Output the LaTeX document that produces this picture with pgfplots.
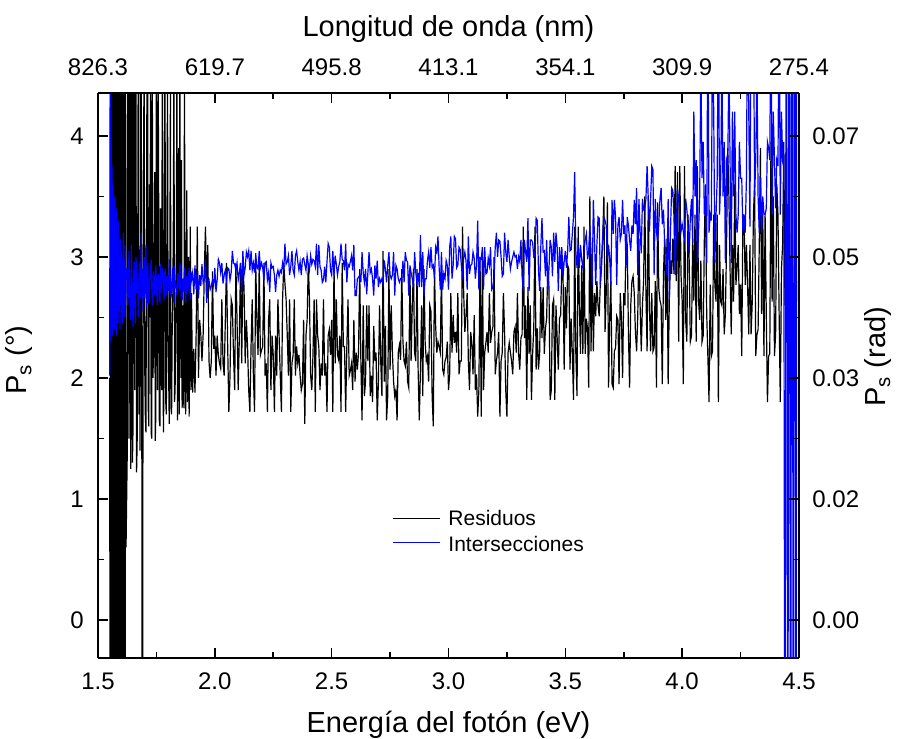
\documentclass[border=0pt]{standalone}
\usepackage{pgfplots}
\usepackage{pgfplotstable}
\pgfplotsset{compat=1.18}
\usepackage{fontspec}
\setmainfont{Liberation Sans}

\pgfplotstableread{
x r i
1.550 2.0 2.02
1.552 -2 4.5
1.554 6 2.3
1.556 -1.5 4.2
1.558 5.5 2.5
1.560 -2 3.75
1.562 6 2.35
1.564 -1 3.6
1.566 5 2.6
1.568 -2 3.3
1.570 6 2.4
1.572 -1.5 3.5
1.574 5.5 2.5
1.576 0.5 3.2
1.578 6 2.35
1.580 -2 3.4
1.582 4.8 2.6
1.584 -1 3.1
1.586 6 2.45
1.588 -2 3.3
1.590 5 2.55
1.592 -1.5 3.0
1.594 6 2.4
1.596 -0.5 3.15
1.598 5.5 2.6
1.600 -2 3.05
1.602 4.6 2.5
1.604 -1 2.95
1.606 6 2.45
1.608 -1.5 3.2
1.610 5 2.55
1.612 -0.8 2.9
1.614 5.5 2.5
1.616 -1.2 3.1
1.618 4.9 2.6
1.620 0.6 2.9
1.625 1.35 2.9
1.6275 4.9 2.6
1.630 5.2 2.72
1.6325 1.5 3.05
1.635 2.4 2.66
1.6375 5.3 2.75
1.640 1.25 2.48
1.6425 2.0 3.1
1.645 4.8 2.8
1.6475 1.3 2.55
1.650 1.6 2.42
1.6525 4.6 2.85
1.655 3.4 2.96
1.6575 1.9 2.6
1.660 5.5 2.45
1.6625 4.4 3.0
1.665 1.22 2.9
1.6675 1.45 2.7
1.670 2.9 2.8
1.6725 5.0 2.5
1.675 1.7 2.84
1.6775 2.3 2.92
1.680 1.4 2.96
1.6825 4.8 2.66
1.685 4.6 3.2
1.6875 1.6 2.8
1.690 -2.5 2.9
1.6925 1.9 2.55
1.695 3.8 2.86
1.6975 4.7 3.0
1.700 2.1 2.66
1.7025 1.7 2.78
1.705 1.55 3.1
1.7075 2.8 2.58
1.710 5.0 2.72
1.7125 4.6 2.95
1.715 1.75 2.8
1.7175 1.6 2.62
1.720 3.6 2.66
1.7225 2.5 2.84
1.725 4.7 2.9
1.7275 1.55 2.98
1.730 1.5 2.76
1.7325 4.5 2.6
1.735 2.0 2.74
1.7375 2.2 2.88
1.740 2.9 2.84
1.7425 3.7 2.68
1.745 1.48 2.72
1.7475 1.7 2.93
1.750 5.1 2.76
1.7525 2.4 2.65
1.755 1.9 2.6
1.7575 4.6 2.86
1.760 3.3 2.8
1.7625 1.65 2.74
1.765 1.6 2.62
1.7675 3.4 2.94
1.770 2.2 2.81
1.7725 1.9 2.7
1.775 4.5 2.91
1.7775 2.6 2.78
1.780 1.55 2.87
1.7825 2.0 2.64
1.785 4.9 2.73
1.7875 3.9 2.9
1.790 1.8 2.76
1.7925 1.7 2.68
1.795 3.1 2.84
1.7975 4.5 2.8
1.800 2.3 2.85
1.8025 2.0 2.72
1.805 1.62 2.98
1.8075 2.9 2.9
1.810 4.4 2.79
1.8125 1.75 2.66
1.815 1.7 2.73
1.8175 2.4 2.84
1.820 2.6 2.91
1.8225 3.3 2.7
1.825 4.6 2.62
1.8275 1.8 2.93
1.830 1.9 2.81
1.8325 2.5 2.75
1.835 2.8 2.73
1.8375 4.6 2.68
1.840 1.65 2.81
1.8425 2.1 2.87
1.845 3.9 2.76
1.8475 1.7 2.74
1.850 4.8 2.91
1.8525 2.9 2.95
1.855 2.0 2.69
1.8575 3.8 2.7
1.860 1.75 2.64
1.8625 2.0 2.82
1.865 2.6 2.76
1.8675 1.75 2.71
1.870 4.5 2.91
1.8725 2.8 2.88
1.875 1.7 2.62
1.8775 2.3 2.77
1.880 3.55 2.84
1.8825 1.8 2.69
1.885 2.1 2.73
1.8875 3.0 2.85
1.890 1.68 2.91
1.8925 2.4 2.72
1.895 3.25 2.65
1.8975 1.9 2.88
1.900 2.7 2.81
1.905 1.88 2.87
1.910 2.24 2.69
1.915 1.88 2.93
1.920 2.36 2.73
1.925 3.25 2.88
1.930 2.0 2.66
1.935 2.48 2.85
1.940 2.36 2.76
1.945 2.14 2.94
1.950 2.36 2.79
1.955 2.88 2.81
1.960 3.25 2.98
1.965 2.66 2.62
1.970 3.1 2.79
1.975 2.14 2.81
1.980 2.0 2.73
1.985 2.14 2.76
1.990 2.88 2.81
1.995 2.24 2.76
2.000 2.35 2.91
2.005 2.02 2.71
2.010 2.35 2.81
2.015 2.19 2.98
2.020 2.12 2.95
2.025 2.08 2.87
2.030 2.65 2.95
2.035 2.12 2.78
2.040 2.02 2.85
2.045 2.48 2.89
2.050 2.95 2.81
2.055 2.26 2.91
2.060 1.72 2.9
2.065 2.02 2.81
2.070 2.65 2.87
2.075 2.6 3.05
2.080 2.19 2.95
2.085 1.9 2.94
2.090 2.95 2.89
2.095 2.48 2.95
2.100 1.9 2.81
2.105 2.35 2.87
2.110 2.95 2.95
2.115 2.12 2.71
2.120 2.9 3.05
2.125 2.75 2.85
2.130 2.12 2.91
2.135 2.48 3.04
2.140 2.26 3.0
2.145 1.9 3.05
2.150 1.72 2.89
2.155 2.26 3.05
2.160 2.65 2.89
2.165 2.02 2.95
2.170 1.72 2.87
2.175 2.95 3.03
2.180 2.48 2.91
2.185 2.19 2.9
2.190 2.95 3.05
2.195 2.19 2.91
2.200 2.23 2.95
2.205 2.26 2.91
2.210 2.95 2.81
2.215 2.02 2.95
2.220 2.12 2.96
2.225 1.72 2.81
2.230 2.48 2.87
2.235 2.65 2.71
2.240 1.9 2.95
2.245 2.35 2.91
2.250 2.19 2.92
2.255 1.72 2.85
2.260 2.35 2.71
2.265 2.02 2.85
2.270 2.65 2.89
2.275 2.35 2.84
2.280 2.02 2.89
2.285 1.72 2.87
2.290 2.65 2.95
2.295 2.95 2.89
2.300 2.78 3.11
2.305 2.65 2.94
2.310 2.35 2.96
2.315 2.02 3.01
2.320 2.65 2.85
2.325 1.72 2.92
2.330 2.12 3.05
2.335 2.19 2.89
2.340 2.65 2.85
2.345 2.02 3.01
2.350 2.26 3.05
2.355 2.12 2.96
2.360 2.19 2.89
2.365 2.02 2.96
2.370 1.9 2.85
2.375 1.95 2.98
2.380 2.48 2.99
2.385 1.62 2.94
2.390 2.35 2.89
2.395 2.48 3.01
2.400 2.95 2.94
2.405 2.65 2.89
2.410 2.02 3.01
2.415 1.9 2.94
2.420 2.19 2.98
2.425 2.65 2.97
2.430 1.72 2.92
2.435 2.65 3.11
2.440 2.35 2.85
2.445 2.26 3.1
2.450 1.9 2.92
2.455 2.12 2.89
2.460 2.02 2.79
2.465 2.65 2.81
2.470 2.02 2.92
2.475 2.12 2.79
2.480 1.72 2.96
2.485 2.35 3.11
2.490 2.4 3.08
2.495 2.19 2.89
2.500 2.48 2.85
2.505 1.72 3.05
2.510 2.95 2.85
2.515 2.12 3.01
2.520 2.65 2.94
2.525 2.19 2.85
2.530 2.15 2.92
2.535 2.35 2.96
2.540 1.72 3.11
2.545 2.95 2.98
2.550 2.26 2.97
2.555 2.26 2.89
2.560 1.72 3.11
2.565 2.26 2.79
2.570 2.65 2.94
2.575 2.02 2.92
2.580 2.06 2.96
2.585 2.12 3.01
2.590 1.9 2.89
2.595 2.48 3.1
2.600 1.97 2.68
2.605 2.21 2.68
2.610 2.07 2.82
2.615 2.21 2.83
2.620 2.9 2.85
2.625 2.14 2.79
2.630 1.65 3.04
2.635 2.6 2.87
2.640 1.85 2.79
2.645 1.97 2.9
2.650 2.6 2.69
2.655 2.14 2.87
2.660 2.6 3.04
2.665 1.85 2.87
2.670 2.02 2.9
2.675 1.8 2.82
2.680 2.43 2.68
2.685 2.14 2.93
2.690 2.21 2.82
2.695 1.65 2.97
2.700 1.97 2.75
2.705 2.6 2.82
2.710 2.14 2.79
2.715 1.85 2.82
2.720 3.05 2.78
2.725 1.97 2.97
2.730 2.43 2.9
2.735 1.65 2.79
2.740 1.85 2.93
2.745 2.9 3.04
2.750 2.07 2.85
2.755 2.6 2.82
2.760 2.21 2.85
2.765 1.97 3.04
2.770 1.85 2.68
2.775 1.9 2.93
2.780 1.65 2.9
2.785 2.21 2.82
2.790 2.27 2.79
2.795 2.15 2.82
2.800 2.9 2.81
2.805 2.3 2.97
2.810 2.14 2.79
2.815 2.1 3.04
2.820 2.3 2.97
2.825 1.97 2.96
2.830 1.92 2.68
2.835 2.9 2.93
2.840 2.14 2.87
2.845 2.6 2.82
2.850 2.9 2.75
2.855 2.21 3.04
2.860 2.14 2.87
2.865 2.9 2.79
2.870 2.07 2.87
2.875 1.65 2.75
2.880 2.07 3.18
2.885 2.6 2.75
2.890 1.85 3.04
2.895 2.9 2.68
2.900 2.3 2.82
2.905 2.14 2.82
2.910 2.18 2.97
2.915 1.97 3.04
2.920 2.6 2.91
2.925 2.55 3.08
2.930 1.85 2.91
2.935 1.6 2.93
2.940 2.9 2.82
2.945 2.43 3.08
2.950 2.21 3.04
2.955 2.3 3.17
2.960 2.26 2.91
2.965 2.21 2.73
2.970 2.9 3.04
2.975 2.07 2.73
2.980 2.03 2.86
2.985 2.14 2.82
2.990 2.17 2.97
2.995 2.3 2.93
3.000 1.9 2.73
3.005 2.03 3.08
3.010 2.7 3.17
3.015 2.21 2.82
3.020 2.52 2.93
3.025 2.29 3.17
3.030 2.38 3.15
3.035 2.21 2.91
3.040 2.7 2.93
3.045 2.03 3.08
3.050 2.14 3.06
3.055 2.14 2.93
3.060 3.25 2.82
3.065 2.7 2.99
3.070 2.38 3.04
3.075 2.52 2.97
3.080 2.7 2.73
3.085 2.14 3.17
3.090 1.9 2.86
3.095 2.38 2.93
3.100 2.29 2.94
3.105 2.03 3.04
3.110 2.52 2.99
3.115 1.9 2.82
3.120 2.03 2.93
3.125 1.68 3.3
3.130 1.9 2.73
3.135 3.0 2.99
3.140 1.68 2.98
3.145 3.0 3.08
3.150 1.9 2.73
3.155 2.21 3.08
3.160 2.29 2.86
3.165 2.38 2.87
3.170 2.21 2.99
3.175 2.7 2.93
3.180 2.29 3.08
3.185 2.38 2.73
3.190 2.42 2.75
3.195 3.0 2.82
3.200 2.03 3.08
3.205 2.14 3.2
3.210 2.21 3.0
3.215 2.38 3.14
3.220 1.68 3.13
3.225 2.14 3.0
3.230 2.21 2.84
3.235 2.7 2.86
3.240 2.38 3.2
3.245 1.9 3.04
3.250 1.68 2.96
3.255 2.21 3.14
3.260 2.29 3.0
3.265 2.21 2.9
3.270 2.14 2.96
3.275 2.03 3.0
3.280 2.38 3.04
3.285 2.42 3.0
3.290 2.21 3.01
3.295 2.7 2.9
3.300 2.2 3.0
3.305 2.07 2.96
3.310 2.33 3.14
3.315 2.36 2.84
3.320 3.25 2.72
3.325 2.33 3.14
3.330 2.6 3.04
3.335 1.82 2.96
3.340 2.75 3.32
3.345 2.2 2.72
3.350 2.6 3.14
3.355 1.82 3.14
3.360 2.2 3.12
3.365 2.41 3.0
3.370 3.25 3.01
3.375 2.07 3.32
3.380 2.41 3.3
3.385 2.07 2.9
3.390 2.2 2.72
3.395 2.75 3.08
3.400 2.33 3.32
3.405 2.75 3.04
3.410 2.2 3.05
3.415 2.41 2.84
3.420 2.49 3.14
3.425 2.93 2.72
3.430 2.75 2.9
3.435 1.82 3.14
3.440 1.9 3.08
3.445 2.6 2.84
3.450 2.65 3.2
3.455 1.82 2.96
3.460 2.6 3.2
3.465 2.33 3.08
3.470 2.07 2.72
3.475 2.49 3.08
3.480 2.52 2.9
3.485 2.93 3.08
3.490 2.88 2.84
3.495 2.07 2.96
3.500 2.75 3.05
3.505 2.41 2.91
3.510 2.93 3.05
3.515 2.9 3.33
3.520 2.07 3.05
3.525 2.49 3.06
3.530 2.2 3.19
3.535 1.82 3.33
3.540 3.25 3.7
3.545 2.2 3.05
3.550 1.85 2.91
3.555 3.25 3.1
3.560 2.6 2.91
3.565 2.2 3.1
3.570 2.93 2.98
3.575 2.2 2.91
3.580 3.25 3.05
3.585 2.2 3.14
3.590 2.49 3.19
3.595 2.41 2.98
3.600 1.92 3.05
3.605 3.5 3.26
3.610 2.22 3.05
3.615 2.97 2.77
3.620 2.22 3.47
3.625 2.7 3.14
3.630 2.51 2.77
3.635 2.8 3.1
3.640 2.6 3.33
3.645 2.51 3.32
3.650 2.8 2.77
3.655 2.97 2.91
3.660 3.15 3.19
3.665 3.5 3.33
3.670 2.38 3.3
3.675 2.7 3.26
3.680 3.45 2.98
3.685 1.92 3.1
3.690 2.51 2.98
3.695 2.8 2.77
3.700 1.95 3.47
3.705 1.92 3.19
3.710 2.22 3.47
3.715 2.25 3.33
3.720 2.51 2.77
3.725 2.48 3.26
3.730 1.95 3.33
3.735 2.7 3.14
3.740 2.51 3.19
3.745 2.0 3.47
3.750 2.7 3.19
3.755 2.6 3.26
3.760 3.15 2.91
3.765 3.1 3.33
3.770 2.38 3.26
3.775 1.92 3.14
3.780 2.6 3.05
3.785 2.8 3.26
3.790 2.84 3.19
3.795 2.7 3.47
3.800 2.38 3.27
3.805 2.22 3.57
3.810 2.51 2.85
3.815 3.15 3.48
3.820 2.6 3.21
3.825 2.22 3.03
3.830 2.6 3.48
3.835 2.8 3.39
3.840 3.5 3.4
3.845 2.7 3.48
3.850 2.22 3.75
3.855 3.5 3.48
3.860 2.6 3.21
3.865 2.22 3.48
3.870 2.7 3.75
3.875 2.22 3.72
3.880 2.25 2.85
3.885 2.8 3.48
3.890 1.92 3.21
3.895 3.45 3.12
3.900 2.74 3.27
3.905 2.64 3.48
3.910 2.6 3.57
3.915 1.95 3.27
3.920 2.86 3.39
3.925 3.15 3.12
3.930 2.48 3.03
3.935 3.15 2.85
3.940 1.95 3.48
3.945 2.64 2.65
3.950 2.97 3.21
3.955 2.86 3.57
3.960 3.15 3.55
3.965 2.86 3.33
3.970 3.75 2.85
3.975 2.8 3.21
3.980 3.7 3.57
3.985 2.3 3.48
3.990 3.75 3.33
3.995 2.86 3.21
4.000 2.64 3.27
4.005 1.95 3.21
4.010 3.75 3.12
4.015 2.48 3.48
4.020 2.3 3.39
4.025 3.35 3.27
4.030 2.97 3.03
4.035 2.3 3.33
4.040 2.35 3.48
4.045 3.15 3.12
4.050 2.64 4.2
4.055 3.35 3.5
4.060 2.3 3.8
4.065 3.75 2.95
4.070 2.64 3.2
4.075 2.48 3.5
4.080 2.97 4.6
4.085 2.3 3.65
4.090 2.35 3.95
4.095 3.15 3.35
4.100 3.6 3.5
4.105 2.53 2.95
4.110 2.18 5.2
4.115 1.8 3.2
4.120 2.77 3.35
4.125 2.18 3.3
4.130 2.22 5.0
4.135 3.35 4.2
4.140 2.77 2.95
4.145 2.63 3.35
4.150 3.35 3.65
4.155 1.8 5.2
4.160 3.1 3.35
4.165 2.63 3.65
4.170 2.6 4.6
4.175 2.9 3.5
4.180 2.36 3.95
4.185 2.53 2.95
4.190 3.1 3.8
4.195 3.9 3.75
4.200 3.5 4.6
4.205 2.9 3.8
4.210 2.36 2.95
4.215 3.1 4.2
4.220 2.63 3.5
4.225 3.6 4.2
4.230 2.77 3.35
4.235 2.9 3.2
4.240 3.1 3.35
4.245 2.53 3.95
4.250 2.77 3.65
4.255 2.18 3.65
4.260 3.35 3.2
4.265 3.3 3.35
4.270 2.77 3.2
4.275 3.1 3.65
4.280 2.77 5.2
4.285 2.36 4.2
4.290 3.1 3.25
4.295 2.36 5.2
4.300 2.63 5.0
4.305 3.35 5.2
4.310 3.6 3.5
4.315 2.18 3.8
4.320 2.36 4.6
4.325 2.4 3.5
4.330 3.1 3.2
4.335 3.9 3.65
4.340 2.53 3.2
4.345 3.35 3.5
4.350 2.18 3.35
4.355 3.35 3.35
4.360 2.53 3.4
4.365 1.8 3.95
4.370 2.18 3.9
4.375 2.2 3.8
4.380 3.95 5.2
4.385 2.63 3.35
4.390 3.5 4.2
4.395 2.18 3.8
4.400 2.36 3.4
4.405 3.6 3.8
4.410 3.35 3.75
4.415 2.53 5.2
4.420 1.8 3.35
4.425 2.9 4.2
4.430 3.1 3.8
4.435 3.95 3.85
4.440 2.6 -3
4.446 3.4 8
4.452 2.2 -3
4.458 3.6 8
4.464 2.4 -3
4.470 3.0 8
4.476 2.1 -3
4.482 3.3 8
4.488 2.5 -3
4.490 2.8 6
}\datatable

\begin{document}
\begin{tikzpicture}
\useasboundingbox (-49pt,-40.5pt) rectangle (401.5pt,329pt);
\begin{axis}[
  scale only axis, width=350.5pt, height=282.5pt,
  xmin=1.5, xmax=4.5, ymin=-0.313, ymax=4.354,
  axis x line*=bottom, axis y line*=left,
  axis line style={line width=0.9pt, -},
  tick align=inside,
  major tick length=5pt, minor tick length=3pt,
  tick style={black, line width=0.8pt},
  xtick={1.5,2,2.5,3,3.5,4,4.5},
  xticklabels={1.5,2.0,2.5,3.0,3.5,4.0,4.5},
  ytick={0,1,2,3,4},
  yticklabels={0,1,2,3,4},
  minor x tick num=1, minor y tick num=1,
  x tick label style={font=\fontsize{12}{14}\selectfont, anchor=base, yshift=-16pt},
  y tick label style={font=\fontsize{12}{14}\selectfont, anchor=east, inner sep=0pt, xshift=-7pt},
  xlabel={Energía del fotón (eV)},
  xlabel style={font=\fontsize{14.5}{17}\selectfont, at={(rel axis cs:0.5,-0.1327)}, anchor=base},
  ylabel={P\textsubscript{s} (°)},
  ylabel style={font=\fontsize{14.5}{17}\selectfont, at={(rel axis cs:-0.1013,0.527)}, anchor=base},
]
\addplot[black, line width=0.6pt] table[x=x, y=r]{\datatable};
\addplot[blue, line width=0.6pt] table[x=x, y=i]{\datatable};
% legend
\addplot[black, line width=0.5pt, forget plot] coordinates {(2.7625,0.8425) (2.9636,0.8425)};
\addplot[blue, line width=0.5pt, forget plot] coordinates {(2.7625,0.642) (2.9636,0.642)};
\node[anchor=base west, inner sep=0pt, font=\fontsize{10.5}{12.5}\selectfont] at (axis cs:2.998,0.779) {Residuos};
\node[anchor=base west, inner sep=0pt, font=\fontsize{10.5}{12.5}\selectfont] at (axis cs:2.998,0.565) {Intersecciones};
\end{axis}
\begin{axis}[
  scale only axis, width=350.5pt, height=282.5pt,
  xmin=1.5, xmax=4.5, ymin=-0.313, ymax=4.354,
  axis x line*=top, axis y line*=right,
  axis line style={line width=0.9pt, -},
  tick align=inside,
  major tick length=5pt, minor tick length=3pt,
  tick style={black, line width=0.8pt},
  xtick={1.5,2,2.5,3,3.5,4,4.5},
  xticklabels={826.3,619.7,495.8,413.1,354.1,309.9,275.4},
  ytick={0,1,2,3,4},
  yticklabels={0.00,0.02,0.03,0.05,0.07},
  minor x tick num=1, minor y tick num=1,
  x tick label style={font=\fontsize{12}{14}\selectfont, anchor=base, yshift=8.5pt},
  y tick label style={font=\fontsize{12}{14}\selectfont, anchor=west, inner sep=0pt, xshift=6.5pt},
  xlabel={Longitud de onda (nm)},
  xlabel style={font=\fontsize{14.5}{17}\selectfont, at={(rel axis cs:0.5,1.0991)}, anchor=base},
  ylabel={P\textsubscript{s} (rad)},
  ylabel style={font=\fontsize{14.5}{17}\selectfont, at={(rel axis cs:1.124,0.533)}, anchor=base},
]
\end{axis}
\end{tikzpicture}
\end{document}
